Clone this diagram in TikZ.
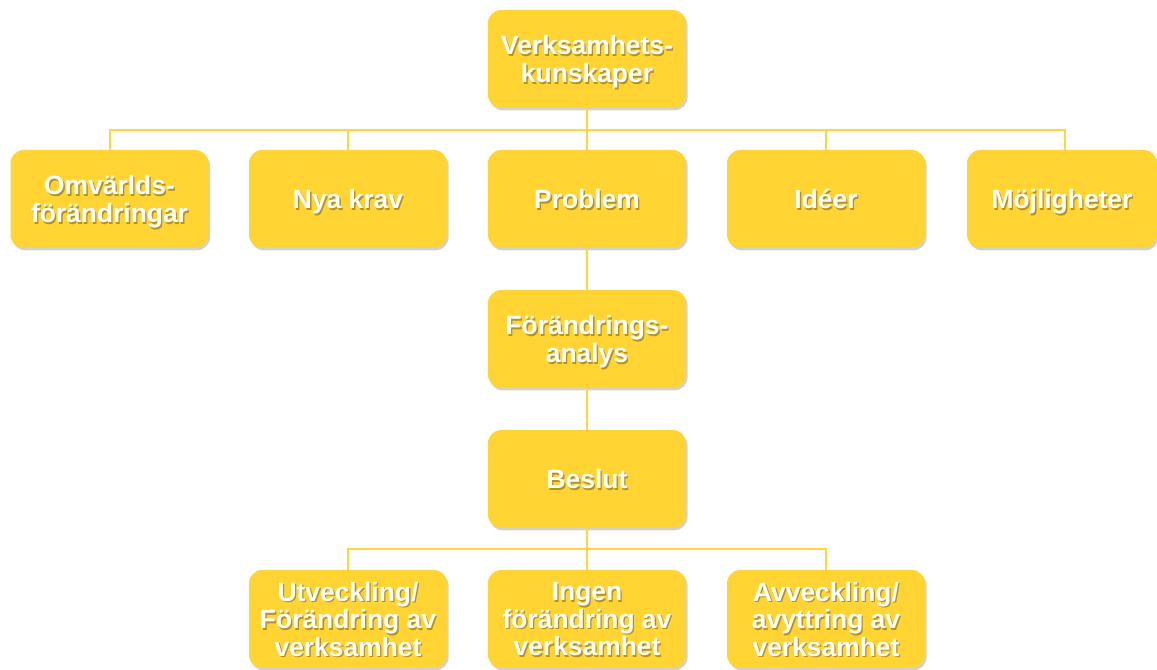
\documentclass[tikz,border=0pt]{standalone}
\usepackage{fontspec}
\setmainfont{Liberation Sans}
\usetikzlibrary{shadows}
\definecolor{boxy}{RGB}{255,212,51}
\definecolor{liney}{RGB}{255,214,60}
\newcommand\mybox[5][148.5pt]{%
  \node[box,minimum width=#1] (#2) at (#3) {};
  \node[lbl,text=black,text opacity=0.3] at ([xshift=1pt,yshift=-4.5pt]#2.center) {#4#5};
  \node[lbl] at ([yshift=-3.2pt]#2.center) {#4#5};
}
\begin{document}
\begin{tikzpicture}[x=0.75pt,y=-0.75pt,
  box/.style={rectangle, rounded corners=10pt, fill=boxy, minimum height=73.5pt, inner sep=0pt,
    drop shadow={shadow xshift=1.2pt, shadow yshift=-1.8pt, opacity=0.18, fill=black}},
  lbl/.style={text=white, font=\bfseries\fontsize{19.8}{20.6}\selectfont, align=center, inner sep=0pt,
    execute at begin node=\strut, execute at end node=\strut},
  conn/.style={draw=liney, line width=1.5pt}]
\useasboundingbox (0,0) rectangle (1157,670);
\mybox{top}{587,59}{Verksamhets-\\kunskaper}{}
\mybox{n1}{109.5,199}{Omvärlds-\\förändringar}{}
\mybox{n2}{348,199}{Nya krav}{}
\mybox{n3}{587,199}{Problem}{}
\mybox{n4}{826,199}{Idéer}{}
\mybox[142.5pt]{n5}{1062,199}{Möjligheter}{}
\mybox{fa}{587,339}{Förändrings-\\analys}{}
\mybox{be}{587,479}{Beslut}{}
\mybox{b1}{348,619}{Utveckling/\\Förändring av\\verksamhet}{}
\mybox{b2}{587,619}{Ingen\\förändring av\\verksamhet}{}
\mybox{b3}{826,619}{Avveckling/\\avyttring av\\verksamhet}{}
\coordinate (bus) at (587,130);
\coordinate (bus2) at (587,549);
\draw[conn] (top.south) -- (bus);
\draw[conn] (n1.north) -- (n1.north |- bus) -- ([xshift=2.25pt]n5.north |- bus) -- ([xshift=2.25pt]n5.north);
\draw[conn] (n2.north) -- (n2.north |- bus);
\draw[conn] (n3.north) -- (n3.north |- bus);
\draw[conn] (n4.north) -- (n4.north |- bus);
\draw[conn] (n3.south) -- (fa.north);
\draw[conn] (fa.south) -- (be.north);
\draw[conn] (be.south) -- (bus2);
\draw[conn] (b1.north) -- (b1.north |- bus2) -- (b3.north |- bus2) -- (b3.north);
\draw[conn] (b2.north) -- (b2.north |- bus2);
\end{tikzpicture}
\end{document}
